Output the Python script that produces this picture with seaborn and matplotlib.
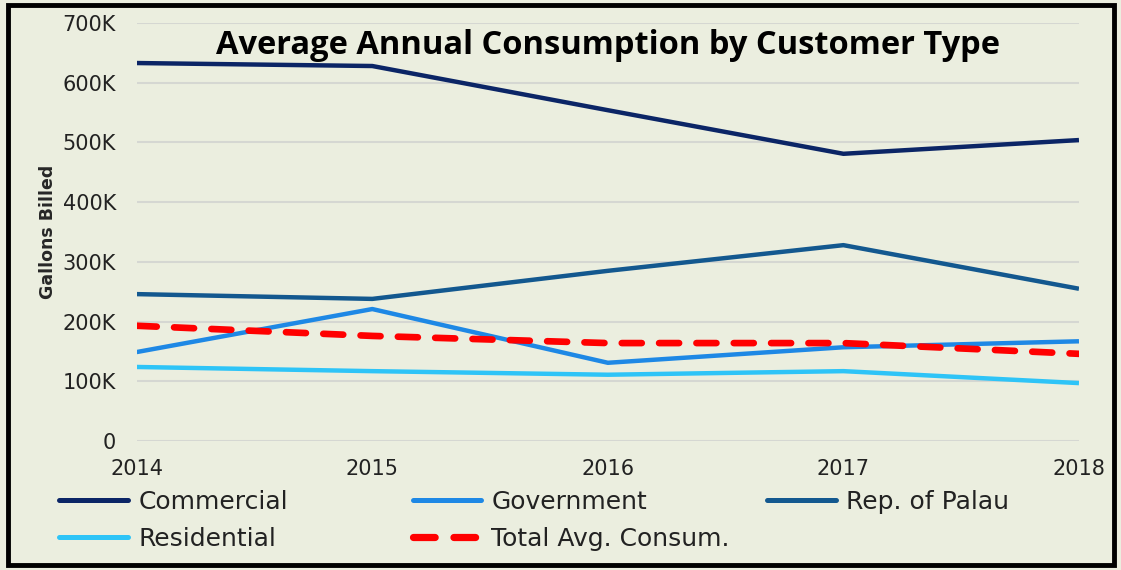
import pandas as pd
import seaborn as sns
import matplotlib.pyplot as plt
from matplotlib.patches import Rectangle

years = [2014, 2015, 2016, 2017, 2018]
commercial = [633000, 628000, 554000, 481000, 504000]
government = [149000, 221000, 131000, 157000, 167000]
rep_palau = [246000, 238000, 285000, 328000, 255000]
residential = [124000, 117000, 111000, 117000, 97000]
total_avg = [193000, 176000, 164000, 164000, 146000]

series = ['Commercial', 'Government', 'Rep. of Palau', 'Residential', 'Total Avg. Consum.']
colors = ['#0B2566', '#1E88E5', '#13588F', '#2EC4F7', '#FF0000']
yticks = [0, 100000, 200000, 300000, 400000, 500000, 600000, 700000]
ytick_labels = ['0', '100K', '200K', '300K', '400K', '500K', '600K', '700K']

df = pd.DataFrame({'Year': years * 5,
                   'Gallons': commercial + government + rep_palau + residential + total_avg,
                   'Type': [s for s in series for _ in years]})

sns.set_style('white')
plt.rcParams['font.family'] = ['DejaVu Sans']
bg = '#EBEEDF'
dash = (3.0, 2.6)

fig = plt.figure(figsize=(11.21, 5.70), dpi=100, facecolor=bg)
ax = fig.add_axes([0.122, 0.2263, 0.8405, 0.7333])
ax.set_facecolor(bg)

sns.lineplot(data=df, x='Year', y='Gallons', hue='Type', style='Type',
             palette=dict(zip(series, colors)),
             dashes={s: '' for s in series[:-1]} | {series[-1]: dash},
             linewidth=3.2, ax=ax, legend=False)
for line in ax.lines[-1:]:
    line.set_linewidth(4.8)
    line.set_dash_capstyle('round')
for line in ax.lines[:-1]:
    line.set_solid_capstyle('butt')

ax.set_xlim(2014, 2018)
ax.set_ylim(0, 700000)
ax.set_xticks(years)
ax.set_xticklabels([str(y) for y in years], fontsize=15, color='#222222')
ax.set_yticks(yticks)
ax.set_yticklabels(ytick_labels, fontsize=15, color='#222222')
ax.tick_params(axis='x', pad=13, length=0)
ax.tick_params(axis='y', pad=15, length=0)
ax.grid(axis='y', color='#D5D7D2', linewidth=1.5)
ax.set_axisbelow(True)
sns.despine(ax=ax, left=True, bottom=True)
ax.set_xlabel('')
ax.set_ylabel('Gallons Billed', fontsize=12.5, fontweight='bold', labelpad=4)

ax.set_title('Average Annual Consumption by Customer Type', fontsize=23.5,
             fontweight='bold', family='Open Sans', color='black', y=0.925, pad=0)

def handle(s, c):
    if s == series[-1]:
        return plt.Line2D([], [], color=c, linewidth=5.2, linestyle=(0, dash),
                          dash_capstyle='round')
    return plt.Line2D([], [], color=c, linewidth=3.6, solid_capstyle='round')

# Excel-style legend: three columns of equal width, filled row by row
columns = [[0, 3], [1, 4], [2]]
x_starts = [0.053, 0.368, 0.684]
for idx, x0 in zip(columns, x_starts):
    leg = fig.legend([handle(series[i], colors[i]) for i in idx], [series[i] for i in idx],
                     loc='upper left', bbox_to_anchor=(x0, 0.14), frameon=False,
                     fontsize=18, handlelength=2.75, handletextpad=0.4,
                     labelspacing=0.52, borderpad=0, borderaxespad=0)
    for t in leg.get_texts():
        t.set_color('#222222')

fig.patches.append(Rectangle((0.007, 0.008), 0.987, 0.983, transform=fig.transFigure,
                             fill=False, edgecolor='black', linewidth=3.5))

fig.savefig('out.png', dpi=100, facecolor=bg)
